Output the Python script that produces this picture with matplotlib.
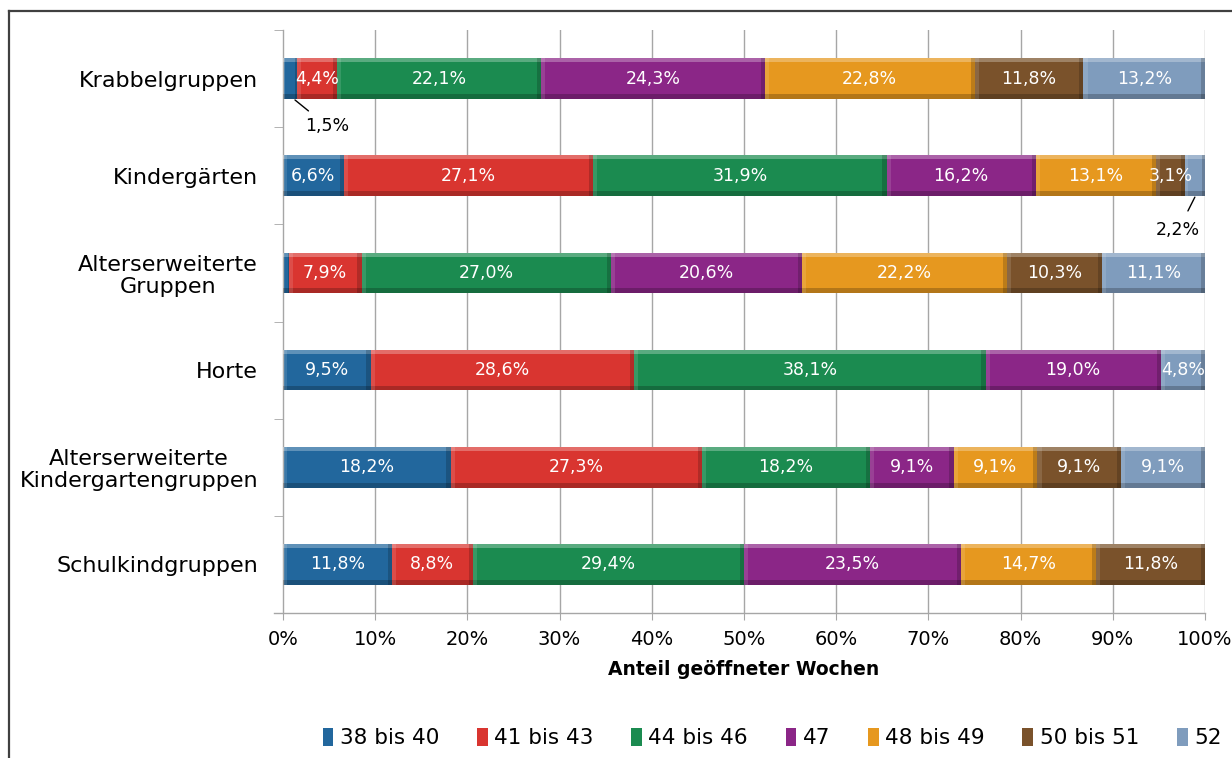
import numpy as np
import matplotlib
matplotlib.use("Agg")
import matplotlib.pyplot as plt
from matplotlib.lines import Line2D

# --- data -----------------------------------------------------------------
categories = [
    "Krabbelgruppen",
    "Kindergärten",
    "Alterserweiterte\nGruppen",
    "Horte",
    "Alterserweiterte\nKindergartengruppen",
    "Schulkindgruppen",
]
series_names = ["38 bis 40", "41 bis 43", "44 bis 46", "47", "48 bis 49", "50 bis 51", "52"]

w38_40 = [1.5, 6.6, 0.6, 9.5, 18.2, 11.8]
w41_43 = [4.4, 27.1, 7.9, 28.6, 27.3, 8.8]
w44_46 = [22.1, 31.9, 27.0, 38.1, 18.2, 29.4]
w47 = [24.3, 16.2, 20.6, 19.0, 9.1, 23.5]
w48_49 = [22.8, 13.1, 22.2, 0.0, 9.1, 14.7]
w50_51 = [11.8, 3.1, 10.3, 0.0, 9.1, 11.8]
w52 = [13.2, 2.2, 11.1, 4.8, 9.1, 0.0]

colors = ["#22679d", "#d93530", "#1b8b50", "#8b2687", "#e6981f", "#7a522b", "#7f9cbd"]

series = np.array([w38_40, w41_43, w44_46, w47, w48_49, w50_51, w52])
shares = series / series.sum(axis=0) * 100.0  # 100 % stacked

# --- figure ----------------------------------------------------------------
W, H = 1232, 758
fig = plt.figure(figsize=(W / 100, H / 100), dpi=100)
plt.rcParams["font.family"] = ["DejaVu Sans"]

ax = fig.add_axes([283 / W, 1 - 613 / H, 922 / W, 583 / H])
ax.set_xlim(0, 100)
ax.set_ylim(len(categories) - 0.5, -0.5)

grid_c = "#a6a6a6"
for x in range(10, 101, 10):
    ax.axvline(x, color=grid_c, lw=1.0, zorder=0)

y = np.arange(len(categories))
h = 0.42
left = np.zeros(len(categories))


def fmt(v):
    return f"{v:.1f}".replace(".", ",") + "%"


for i, (name, col) in enumerate(zip(series_names, colors)):
    vals = shares[i]
    raw = series[i]
    ax.barh(y, vals, left=left, height=h, color=col, edgecolor="none",
            zorder=2, label=name)
    # bevelled look: light top edge, dark bottom edge, darker right edge
    ax.barh(y - h / 2 + h * 0.05, vals, left=left, height=h * 0.10,
            color="white", alpha=0.28, edgecolor="none", zorder=3)
    ax.barh(y + h / 2 - h * 0.06, vals, left=left, height=h * 0.12,
            color="black", alpha=0.22, edgecolor="none", zorder=3)
    for j in range(len(categories)):
        if vals[j] <= 0:
            continue
        rw = min(0.45, vals[j] * 0.15)
        ax.barh(y[j], rw, left=left[j] + vals[j] - rw, height=h,
                color="black", alpha=0.18, edgecolor="none", zorder=3)
        ax.barh(y[j], rw, left=left[j], height=h,
                color="white", alpha=0.12, edgecolor="none", zorder=3)
        if raw[j] >= 3.0:
            ax.text(left[j] + vals[j] / 2, y[j], fmt(raw[j]), ha="center",
                    va="center", color="white", fontsize=12.5, zorder=5)
    left += vals

# small segments labelled outside with leader lines
ax.annotate(fmt(w38_40[0]), xy=(1.3, 0 + 0.22), xytext=(4.8, 0.49),
            ha="center", va="center", fontsize=12.5, color="black",
            arrowprops=dict(arrowstyle="-", color="black", lw=1.0,
                            shrinkA=4, shrinkB=0), zorder=6)
ax.annotate(fmt(w52[1]), xy=(98.9, 1 + 0.22), xytext=(97.1, 1.56),
            ha="center", va="center", fontsize=12.5, color="black",
            arrowprops=dict(arrowstyle="-", color="black", lw=1.0,
                            shrinkA=6, shrinkB=0), zorder=6)

# axes styling
for s in ["top", "right"]:
    ax.spines[s].set_visible(False)
for s in ["left", "bottom"]:
    ax.spines[s].set_color(grid_c)
    ax.spines[s].set_linewidth(1.0)
ax.spines["bottom"].set_bounds(-1.0, 100)
ax.spines["bottom"].set_clip_on(False)

ax.set_xticks(range(0, 101, 10))
ax.set_xticklabels([f"{v}%" for v in range(0, 101, 10)], fontsize=14)
ax.tick_params(axis="x", direction="out", length=5, color=grid_c, pad=7)

ax.set_yticks(y)
ax.set_yticklabels(categories, fontsize=16, ha="right",
                   multialignment="center", linespacing=1.1)
ax.tick_params(axis="y", length=0, pad=18)
ax.set_yticks(np.arange(-0.5, len(categories), 1.0), minor=True)
ax.tick_params(axis="y", which="minor", length=6.5, color=grid_c)

ax.set_xlabel("Anteil geöffneter Wochen", fontsize=13.5, fontweight="bold",
              labelpad=8)

ax.legend(loc="center", bbox_to_anchor=(772 / W, 1 - 738 / H),
          bbox_transform=fig.transFigure, ncol=7, frameon=False,
          fontsize=15.5, handlelength=0.5, handleheight=0.9,
          handletextpad=0.3, columnspacing=1.75)

# outer chart frame (runs past the right and bottom edges)
fig.add_artist(Line2D([9 / W, 1.0], [1 - 11 / H, 1 - 11 / H],
                      transform=fig.transFigure, color="#404040", lw=1.6))
fig.add_artist(Line2D([9 / W, 9 / W], [0.0, 1 - 11 / H],
                      transform=fig.transFigure, color="#404040", lw=1.6))

fig.savefig("out.png", dpi=100)
